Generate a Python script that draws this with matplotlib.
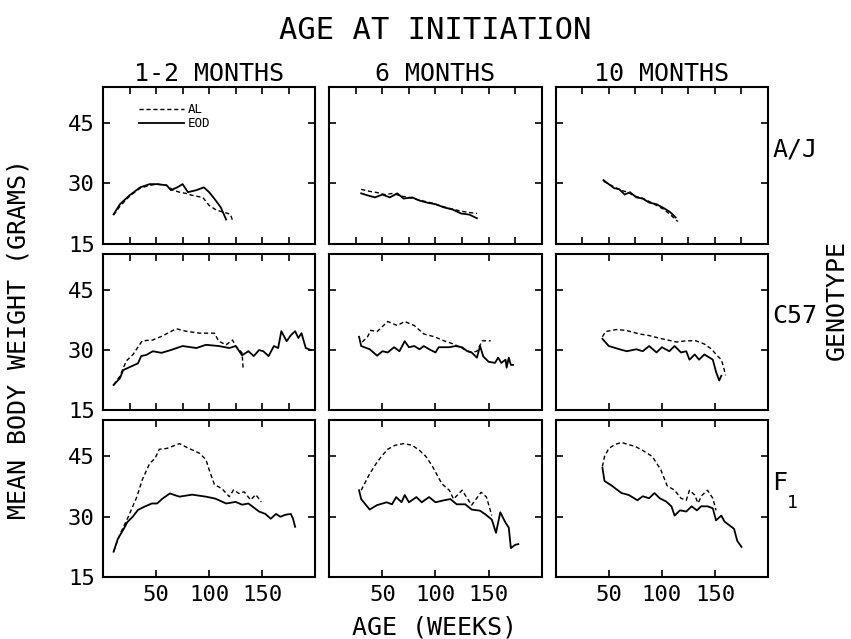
import matplotlib
matplotlib.use("Agg")
import matplotlib.pyplot as plt
from matplotlib.ticker import MultipleLocator

# Titles and labels
columns = ["1-2 MONTHS", "6 MONTHS", "10 MONTHS"]
genotypes = ["A/J", "C57", "F"]
y_ticks = [15, 30, 45]
x_ticks = [50, 100, 150]

# A/J, initiated at 1-2 months
aj_early_al_weeks = [10, 16, 25, 35, 44, 51, 60, 66, 72, 78, 84, 94, 100, 107, 114, 120, 122]
aj_early_al_grams = [22.1, 24.3, 26.8, 28.8, 29.5, 29.8, 29.5, 28.3, 27.8, 27.5, 27, 26.5, 24.5, 23.3, 22.8, 22.3, 20.8]
aj_early_eod_weeks = [10, 16, 25, 35, 44, 51, 60, 64, 70, 75, 80, 88, 95, 100, 106, 111, 116]
aj_early_eod_grams = [22.3, 24.8, 27, 29, 29.8, 29.8, 29.5, 28.3, 29, 29.8, 27.8, 28.3, 29, 27.8, 25.8, 24, 21]

# A/J, 6 months
aj_six_al_weeks = [30, 38, 45, 52, 60, 68, 75, 82, 90, 98, 106, 114, 122, 130, 139]
aj_six_al_grams = [28.5, 28, 27.7, 27.2, 27.5, 26.8, 26.5, 26, 25.5, 25, 24.3, 23.7, 23.2, 22.8, 22.5]
aj_six_eod_weeks = [30, 36, 43, 50, 57, 64, 70, 78, 85, 92, 100, 108, 116, 124, 132, 139]
aj_six_eod_grams = [27.5, 27, 26.5, 27.2, 26.5, 27.5, 26.2, 26.5, 25.7, 25.2, 24.8, 24, 23.5, 22.5, 22.2, 21.3]

# A/J, 10 months
aj_ten_al_weeks = [45, 50, 56, 62, 68, 74, 80, 88, 95, 102, 108, 115]
aj_ten_al_grams = [30.5, 29.8, 29, 28.2, 27.8, 26.8, 26.5, 25.5, 24.5, 23.5, 22.2, 20.5]
aj_ten_eod_weeks = [45, 50, 55, 60, 65, 70, 76, 82, 88, 95, 102, 108, 113]
aj_ten_eod_grams = [30.8, 29.8, 28.8, 28.5, 27.2, 27.8, 26.5, 26.2, 25.2, 24.8, 23.8, 22.8, 21.5]

# C57, 1-2 months
c57_early_al_weeks = [10, 16, 22, 28, 37, 47, 56, 69, 78, 91, 105, 109, 116, 122, 125, 131, 132]
c57_early_al_grams = [21.3, 23.5, 27.3, 28.8, 32.3, 32.5, 33.5, 35.3, 34.7, 34.2, 34.2, 32.2, 31.3, 32.5, 31, 29.3, 25.5]
c57_early_eod_weeks = [10, 16, 19, 33, 36, 41, 47, 55, 64, 75, 88, 97, 109, 119, 125, 131, 137, 142, 147,
                       151, 156, 161, 165, 168, 173, 177, 181, 184, 187, 191, 196]
c57_early_eod_grams = [21.3, 23, 25, 26.7, 28.5, 28.8, 29.7, 29.3, 30, 31, 30.5, 31.3, 31, 30.5, 31, 28.7, 29.7, 28.5, 30,
                       29.7, 28.5, 31, 30.5, 34.7, 32.2, 33.7, 34.7, 33, 34.2, 30.5, 30]

# C57, 6 months
c57_six_al_weeks = [31, 36, 39, 45, 55, 64, 71, 80, 89, 99, 108, 117, 127, 134, 139, 144, 152]
c57_six_al_grams = [32, 33.3, 34.9, 34.6, 37.1, 36.1, 37.1, 36.1, 34, 33.3, 32.3, 31.5, 30.2, 29.4, 29.7, 32.3, 32.3]
c57_six_eod_weeks = [28, 30, 38, 45, 50, 55, 61, 66, 71, 75, 80, 85, 89, 94, 100, 103, 113, 119, 125, 130, 134,
                     139, 142, 145, 150, 156, 159, 162, 166, 167, 169, 171, 173]
c57_six_eod_grams = [33.3, 31, 30.2, 28.6, 29.7, 29.4, 30.7, 29.7, 32.2, 30.7, 31, 30.2, 31, 30.2, 29.4, 30.7, 30.7,
                     31, 30.7, 29.7, 29.4, 28.1, 31, 28.4, 27.1, 26.8, 28.1, 26.8, 27.6, 25.6, 28.1, 26.3, 26.3]

# C57, 10 months
c57_ten_al_weeks = [44, 47, 57, 66, 79, 88, 100, 114, 123, 132, 140, 147, 151, 156, 158, 160]
c57_ten_al_grams = [33.3, 34.6, 35.1, 34.9, 34, 33.6, 32.8, 32, 32.3, 32.3, 31.5, 30.2, 28.9, 27.6, 25.9, 23.7]
c57_ten_eod_weeks = [44, 50, 60, 67, 76, 82, 88, 95, 100, 107, 112, 118, 123, 126, 131, 135, 140, 145, 148, 151, 154, 156]
c57_ten_eod_grams = [32.8, 31, 30.2, 29.7, 30.2, 29.7, 31, 29.4, 30.7, 29.7, 31, 29.4, 29.7, 27.6, 28.9, 27.6, 28.9,
                     28.1, 27.6, 24.6, 22.4, 23.6]

# F1, 1-2 months
f1_early_al_weeks = [10, 16, 23, 32, 37, 44, 49, 53, 60, 72, 81, 91, 97, 100, 105, 112, 119, 123, 128, 133, 139, 144, 149]
f1_early_al_grams = [21.3, 25.7, 29.5, 35, 39.2, 43.3, 44.5, 46.8, 47, 48.2, 47, 45.8, 44.2, 41.7, 38, 37, 35, 36.7,
                     35.8, 36.2, 34.2, 35.5, 33.7]
f1_early_eod_weeks = [10, 14, 19, 23, 28, 33, 39, 46, 51, 56, 63, 72, 84, 97, 106, 116, 125, 131, 137, 147, 153, 158,
                      163, 167, 172, 177, 179, 181]
f1_early_eod_grams = [21.3, 24.5, 26.7, 28.7, 30, 31.7, 32.5, 33.3, 33.3, 34.5, 35.8, 35, 35.5, 35, 34.5, 33.3, 33.7,
                      33, 33.3, 31.3, 30.7, 29.5, 30.7, 30, 30.5, 30.7, 29.5, 27.5]

# F1, 6 months
f1_six_al_weeks = [30, 38, 44, 49, 55, 62, 70, 78, 85, 91, 97, 106, 113, 117, 125, 134, 143, 148, 153]
f1_six_al_grams = [36.6, 40.7, 43.2, 45, 46.8, 47.8, 48.2, 47.8, 46.5, 45, 42.6, 38.2, 36.6, 34.4, 36.6, 32.9, 36.1,
                   34.9, 30.3]
f1_six_eod_weeks = [28, 30, 38, 45, 54, 59, 63, 68, 71, 75, 82, 87, 94, 100, 108, 114, 120, 128, 134, 142, 147, 153,
                    157, 161, 166, 169, 171, 175, 178]
f1_six_eod_grams = [36.6, 34.4, 31.8, 32.9, 33.6, 33.1, 34.9, 33.6, 35.4, 33.6, 34.9, 33.6, 34.9, 33.6, 34.1, 34.4,
                    33.1, 33.1, 31.8, 31.5, 30.6, 29.3, 26, 31.1, 28.5, 27.3, 22.2, 23, 23.2]

# F1, 10 months
f1_ten_al_weeks = [44, 46, 50, 56, 62, 68, 75, 82, 88, 91, 99, 105, 112, 118, 123, 126, 131, 134, 138, 143, 148, 151]
f1_ten_al_grams = [42.5, 45, 47, 48, 48.5, 48, 47.5, 46.5, 45.5, 45, 41.7, 37.7, 36.6, 34.6, 34.1, 36.6, 35.4, 33.4,
                   35.4, 36.6, 34.6, 31.6]
f1_ten_eod_weeks = [44, 46, 53, 62, 69, 77, 82, 88, 93, 98, 104, 109, 112, 117, 123, 128, 133, 137, 143, 148, 151, 156,
                    159, 164, 168, 171, 175]
f1_ten_eod_grams = [42.2, 38.9, 37.7, 35.9, 35.4, 34.1, 35.1, 34.6, 35.9, 34.6, 33.8, 32.6, 30.3, 31.6, 31.3, 32.6,
                    31.6, 32.6, 32.6, 32.1, 29.1, 30.3, 28.8, 27.8, 27, 24, 22.5]

panels = [
    [(aj_early_al_weeks, aj_early_al_grams, aj_early_eod_weeks, aj_early_eod_grams),
     (aj_six_al_weeks, aj_six_al_grams, aj_six_eod_weeks, aj_six_eod_grams),
     (aj_ten_al_weeks, aj_ten_al_grams, aj_ten_eod_weeks, aj_ten_eod_grams)],
    [(c57_early_al_weeks, c57_early_al_grams, c57_early_eod_weeks, c57_early_eod_grams),
     (c57_six_al_weeks, c57_six_al_grams, c57_six_eod_weeks, c57_six_eod_grams),
     (c57_ten_al_weeks, c57_ten_al_grams, c57_ten_eod_weeks, c57_ten_eod_grams)],
    [(f1_early_al_weeks, f1_early_al_grams, f1_early_eod_weeks, f1_early_eod_grams),
     (f1_six_al_weeks, f1_six_al_grams, f1_six_eod_weeks, f1_six_eod_grams),
     (f1_ten_al_weeks, f1_ten_al_grams, f1_ten_eod_weeks, f1_ten_eod_grams)],
]

plt.rcParams['font.family'] = ['DejaVu Sans Mono']

fig, axes = plt.subplots(3, 3, figsize=(8.51, 6.39), dpi=100)
fig.subplots_adjust(left=0.121, right=0.9025, top=0.864, bottom=0.097, wspace=0.066, hspace=0.064)

for r in range(3):
    for c in range(3):
        ax = axes[r][c]
        al_x, al_y, eod_x, eod_y = panels[r][c]
        ax.plot(al_x, al_y, color='black', linestyle=(0, (3, 2)), linewidth=1.0, label='AL')
        ax.plot(eod_x, eod_y, color='black', linewidth=1.3, label='EOD')
        ax.set_xlim(0, 200)
        ax.set_ylim(15, 54)
        ax.set_xticks(x_ticks)
        ax.set_yticks(y_ticks)
        # the top row (and the first C57 panel) also carry 25-week marks
        if r == 0 or (r == 1 and c == 0):
            ax.xaxis.set_minor_locator(MultipleLocator(25))
            ax.tick_params(axis='x', which='minor', direction='in', length=5, width=1.2, top=True, bottom=True)
        ax.tick_params(axis='both', which='major', direction='in', length=5, width=1.2,
                       top=True, right=True, labelsize=16, pad=6)
        for side in ax.spines.values():
            side.set_linewidth(1.5)
        if c != 0:
            ax.set_yticklabels([])
        if r != 2:
            ax.set_xticklabels([])
        if r == 0:
            ax.set_title(columns[c], fontsize=18, pad=4)

axes[0][0].legend(loc='upper left', bbox_to_anchor=(0.13, 0.95), frameon=False, fontsize=9,
                  handlelength=3.6, handletextpad=0.25, labelspacing=0.05, borderpad=0.2)

for r in range(3):
    ax = axes[r][2]
    ax.text(1.02, 0.6, genotypes[r], transform=ax.transAxes, fontsize=18, ha='left', va='center')
axes[2][2].text(1.09, 0.47, '1', transform=axes[2][2].transAxes, fontsize=13, ha='left', va='center')

fig.text(0.511, 0.953, 'AGE AT INITIATION', fontsize=22, ha='center', va='center')
fig.text(0.511, 0.018, 'AGE (WEEKS)', fontsize=18, ha='center', va='center')
fig.text(0.022, 0.47, 'MEAN BODY WEIGHT (GRAMS)', fontsize=18, ha='center', va='center', rotation=90)
fig.text(0.983, 0.53, 'GENOTYPE', fontsize=18, ha='center', va='center', rotation=90)

fig.savefig('out.png', dpi=100)
